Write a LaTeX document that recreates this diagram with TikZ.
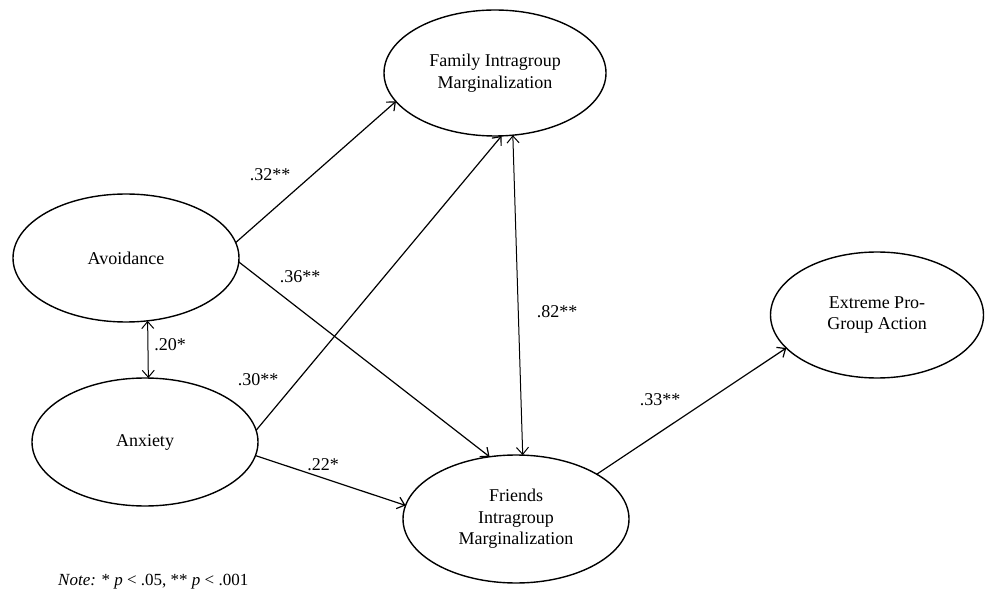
\documentclass[tikz,border=0pt]{standalone}
\usepackage{fontspec}
\setmainfont{Liberation Serif}
\usetikzlibrary{shapes.geometric,arrows.meta}
\tikzset{
  latent/.style={ellipse,draw=black,line width=1.4pt,inner sep=0pt,outer sep=0pt,
    minimum width=226pt,minimum height=128pt,align=center,
    font=\fontsize{18}{21.5}\selectfont},
  path/.style={line width=1.2pt,-{Straight Barb[length=7pt,width=12pt,line width=1.2pt]}},
  cov/.style={line width=1.0pt,{Straight Barb[length=7pt,width=12pt,line width=1.0pt]}-{Straight Barb[length=7pt,width=12pt,line width=1.0pt]}},
  coef/.style={inner sep=0pt,font=\fontsize{18}{21}\selectfont}
}
\begin{document}
\begin{tikzpicture}[x=1pt,y=-1pt]
\useasboundingbox (0,0) rectangle (985,593);
\node[latent,minimum width=222pt,minimum height=126pt] (F) at (495,73) {Family Intragroup\\Marginalization};
\node[latent] (Av) at (126,258) {Avoidance};
\node[latent] (An) at (145,442) {Anxiety};
\node[latent] (Fr) at (516,519) {Friends\\Intragroup\\Marginalization};
\node[latent,minimum width=213pt,minimum height=126pt] (Ex) at (877,315) {Extreme Pro-\\Group Action};

\draw[path] (Av.8.1) -- (F.196.2);
\draw[path] (Av.-2) -- (Fr.113.6);
\draw[path] (An.6.1) -- (F.276.2);
\draw[path] (An.-7.6) -- (Fr.173);
\draw[path] (Fr.29.6) -- (Ex.200.2);
\draw[cov] (F.286.2) -- (Fr.84.8);
\draw[cov] (Av.-71) -- (An.87.3);

\node[coef] (l32) at (270,175) {.32**};
\node[coef] (l36) at (300,277) {.36**};
\node[coef] (l30) at (258,380) {.30**};
\node[coef] (l22) at (323,465) {.22*};
\node[coef] (l20) at (170,345) {.20*};
\node[coef] (l82) at (557,312) {.82**};
\node[coef] (l33) at (660,400) {.33**};
\node[anchor=west,inner sep=0pt,font=\fontsize{17}{20}\selectfont] (note) at (58,582) {\textit{Note:} * \textit{p} < .05, ** \textit{p} < .001};
\end{tikzpicture}
\end{document}
